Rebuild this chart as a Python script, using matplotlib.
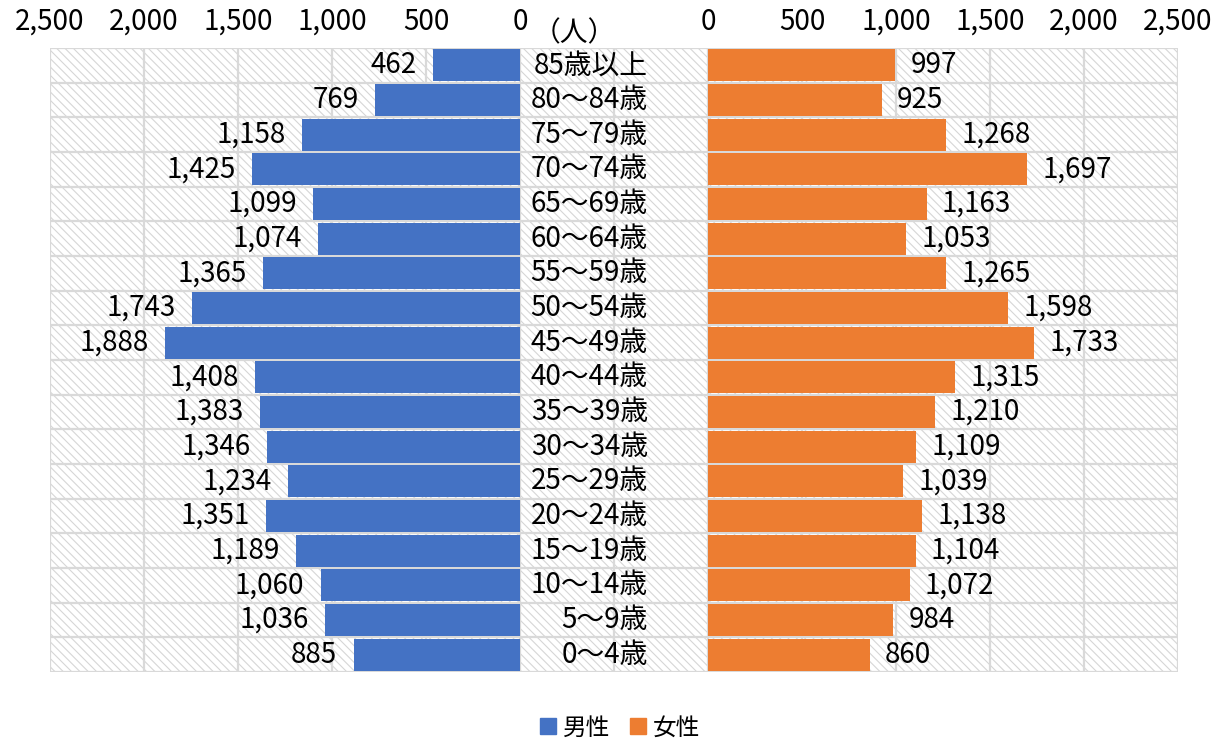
import matplotlib.pyplot as plt
from matplotlib.patches import Rectangle
from matplotlib.lines import Line2D
import numpy as np

plt.rcParams['font.family'] = ['Noto Sans CJK JP', 'DejaVu Sans']
plt.rcParams['hatch.linewidth'] = 0.8

ages = ['85歳以上', '80～84歳', '75～79歳', '70～74歳', '65～69歳', '60～64歳',
        '55～59歳', '50～54歳', '45～49歳', '40～44歳', '35～39歳', '30～34歳',
        '25～29歳', '20～24歳', '15～19歳', '10～14歳', '5～9歳', '0～4歳']
male = [462, 769, 1158, 1425, 1099, 1074, 1365, 1743, 1888, 1408,
        1383, 1346, 1234, 1351, 1189, 1060, 1036, 885]
female = [997, 925, 1268, 1697, 1163, 1053, 1265, 1598, 1733, 1315,
          1210, 1109, 1039, 1138, 1104, 1072, 984, 860]
tick_vals = [2500, 2000, 1500, 1000, 500, 0]

gap = 1000          # space between the two halves, in axis units
xmax = 2500
blue = '#4472C4'
orange = '#ED7D31'
gridc = '#d9d9d9'
fs = 20

fig = plt.figure(figsize=(12.14, 7.42), dpi=100)
ax = fig.add_axes([50/1214, 70/742, 1128/1214, 624/742])
y = np.arange(len(ages))

# hatched background
bg = Rectangle((0, 0), 1, 1, transform=ax.transAxes, facecolor='white',
               edgecolor='#d6d6d6', hatch='\\\\\\\\', lw=0, zorder=0)
ax.add_patch(bg)

# grid
for xv in np.arange(-xmax, xmax + gap + 1, 500):
    ax.axvline(xv, color=gridc, lw=1.6, zorder=1)
for yv in np.arange(-0.5, len(ages), 1.0):
    ax.axhline(yv, color=gridc, lw=1.6, zorder=1)

ax.barh(y, [-m for m in male], height=0.92, color=blue, zorder=2)
ax.barh(y, female, left=gap, height=0.92, color=orange, zorder=2)

for i in range(len(ages)):
    ax.annotate(f'{male[i]:,}', (-male[i], y[i]), xytext=(-12, 0),
                textcoords='offset points', ha='right', va='center', fontsize=fs)
    ax.annotate(f'{female[i]:,}', (gap + female[i], y[i]), xytext=(11, 0),
                textcoords='offset points', ha='left', va='center', fontsize=fs)
    ax.text(680, y[i], ages[i], ha='right', va='center', fontsize=fs)

ax.set_xlim(-xmax, xmax + gap)
ax.set_ylim(len(ages) - 0.5, -0.5)

ticks = [-v for v in tick_vals] + [gap + v for v in tick_vals[::-1]]
labels = [f'{v:,}' for v in tick_vals] + [f'{v:,}' for v in tick_vals[::-1]]
ax.xaxis.tick_top()
ax.set_xticks(ticks)
ax.set_xticklabels(labels, fontsize=fs)
ax.tick_params(axis='x', length=0, pad=8)
ax.set_yticks([])
for s in ax.spines.values():
    s.set_visible(False)

ax.text(290, 1.0, '（人）', transform=ax.get_xaxis_transform(), ha='center',
        va='bottom', fontsize=fs)

handles = [Line2D([], [], marker='s', ls='', color=blue, ms=11),
           Line2D([], [], marker='s', ls='', color=orange, ms=11)]
fig.legend(handles, ['男性', '女性'], loc='center', bbox_to_anchor=(620/1214, 1 - 728/742),
           ncol=2, frameon=False, handlelength=0.7, handletextpad=0.3, columnspacing=0.8,
           prop={'size': 17})

fig.savefig('out.png', dpi=100)
